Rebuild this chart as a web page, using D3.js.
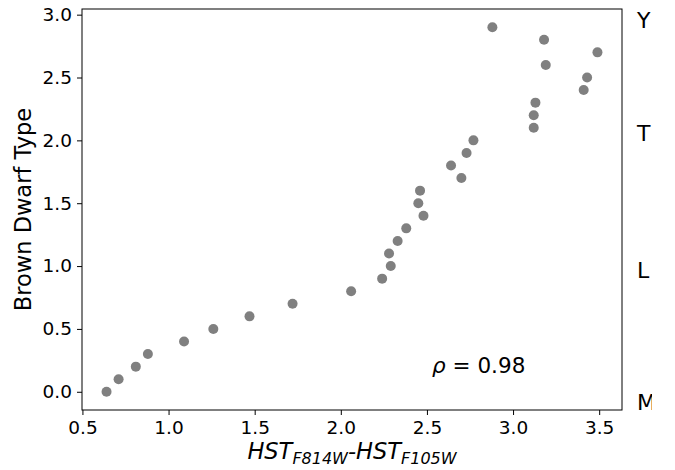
<!DOCTYPE html>
<html>
<head>
<meta charset="utf-8">
<script src="https://cdn.jsdelivr.net/npm/d3@7"></script>
<style>
  body { margin: 0; background: #fff; }
  svg text { font-family: "DejaVu Sans", sans-serif; fill: #000; }
</style>
</head>
<body>
<svg id="chart" width="675" height="470"></svg>
<script>
// colour difference HST F814W - F105W
const colourIndex = [0.64, 0.71, 0.81, 0.88, 1.09, 1.26, 1.47, 1.72, 2.06, 2.24,
  2.29, 2.28, 2.33, 2.38, 2.48, 2.45, 2.46, 2.70, 2.64, 2.73,
  2.77, 3.12, 3.12, 3.13, 3.41, 3.43, 3.19, 3.49, 3.18, 2.88];
// brown dwarf spectral type as number (M=0, L=1, T=2, Y=3)
const dwarfType = [0.0, 0.1, 0.2, 0.3, 0.4, 0.5, 0.6, 0.7, 0.8, 0.9,
  1.0, 1.1, 1.2, 1.3, 1.4, 1.5, 1.6, 1.7, 1.8, 1.9,
  2.0, 2.1, 2.2, 2.3, 2.4, 2.5, 2.6, 2.7, 2.8, 2.9];
const xTicks = [0.5, 1.0, 1.5, 2.0, 2.5, 3.0, 3.5];
const yTicks = [0.0, 0.5, 1.0, 1.5, 2.0, 2.5, 3.0];
const typeLabels = ["M", "L", "T", "Y"];
const typeValues = [0, 1, 2, 3];

const margin = {top: 9, right: 53, bottom: 60, left: 82};
const width = 675, height = 470;

const svg = d3.select("#chart");

// matplotlib style 5% margins around the data
let xPad = (d3.max(colourIndex) - d3.min(colourIndex)) * 0.05;
let yPad = (d3.max(dwarfType) - d3.min(dwarfType)) * 0.05;
let xScale = d3.scaleLinear()
  .domain([d3.min(colourIndex) - xPad, d3.max(colourIndex) + xPad])
  .range([margin.left, width - margin.right]);
let yScale = d3.scaleLinear()
  .domain([d3.min(dwarfType) - yPad, d3.max(dwarfType) + yPad])
  .range([height - margin.bottom, margin.top]);

let xAxis = d3.axisBottom(xScale).tickValues(xTicks).tickFormat(d3.format(".1f")).tickSize(5).tickPadding(6);
let yAxis = d3.axisLeft(yScale).tickValues(yTicks).tickFormat(d3.format(".1f")).tickSize(5).tickPadding(5);

svg.append("g")
  .attr("class", "axis-x")
  .attr("transform", "translate(0," + (height - margin.bottom) + ")")
  .call(xAxis);

svg.append("g")
  .attr("class", "axis-y")
  .attr("transform", "translate(" + margin.left + ",0)")
  .call(yAxis);

svg.selectAll(".axis-x text, .axis-y text")
  .style("font-size", "18.5px");
svg.selectAll(".domain").remove();
svg.selectAll(".tick line").attr("stroke", "#000").attr("stroke-width", 1);

// frame
svg.append("rect")
  .attr("x", margin.left)
  .attr("y", margin.top)
  .attr("width", width - margin.right - margin.left)
  .attr("height", height - margin.bottom - margin.top)
  .attr("fill", "none")
  .attr("stroke", "#000")
  .attr("stroke-width", 1);

svg.append("g")
  .selectAll("circle")
  .data(colourIndex)
  .enter()
  .append("circle")
  .attr("cx", function(d) { return xScale(d); })
  .attr("cy", function(d, i) { return yScale(dwarfType[i]); })
  .attr("r", 5)
  .attr("fill", "#808080");

// in the original the wide "M" gets cut off at the figure edge
svg.append("clipPath")
  .attr("id", "fig-edge")
  .append("rect")
  .attr("x", 0).attr("y", 0)
  .attr("width", 652).attr("height", height);

// spectral class letters outside the right edge
let labelOffset = [11, 4, -7, 6];
svg.append("g")
  .selectAll("text")
  .data(typeLabels)
  .enter()
  .append("text")
  .attr("x", width - margin.right + 15)
  .attr("y", function(d, i) { return yScale(typeValues[i]) + labelOffset[i]; })
  .attr("dy", "0.35em")
  .attr("clip-path", function(d) { return d == "M" ? "url(#fig-edge)" : null; })
  .style("font-size", "22px")
  .text(function(d) { return d; });

// correlation note
let rho = svg.append("text")
  .attr("x", xScale(2.53))
  .attr("y", yScale(0.21))
  .attr("dy", "0.35em")
  .style("font-size", "21.5px");
rho.append("tspan").style("font-style", "italic").text("ρ");
rho.append("tspan").text(" = 0.98");

// axis titles
svg.append("text")
  .attr("transform", "translate(31," + ((margin.top + height - margin.bottom) / 2) + ") rotate(-90)")
  .attr("text-anchor", "middle")
  .style("font-size", "22.5px")
  .text("Brown Dwarf Type");

let xLabel = svg.append("text")
  .attr("x", (margin.left + width - margin.right) / 2)
  .attr("y", 459)
  .attr("text-anchor", "middle")
  .style("font-size", "22.5px")
  .style("font-style", "italic");
xLabel.append("tspan").text("HST");
xLabel.append("tspan").attr("dy", 5).style("font-size", "16px").text("F814W");
xLabel.append("tspan").attr("dy", -5).text("-HST");
xLabel.append("tspan").attr("dy", 5).style("font-size", "16px").text("F105W");
</script>
</body>
</html>
